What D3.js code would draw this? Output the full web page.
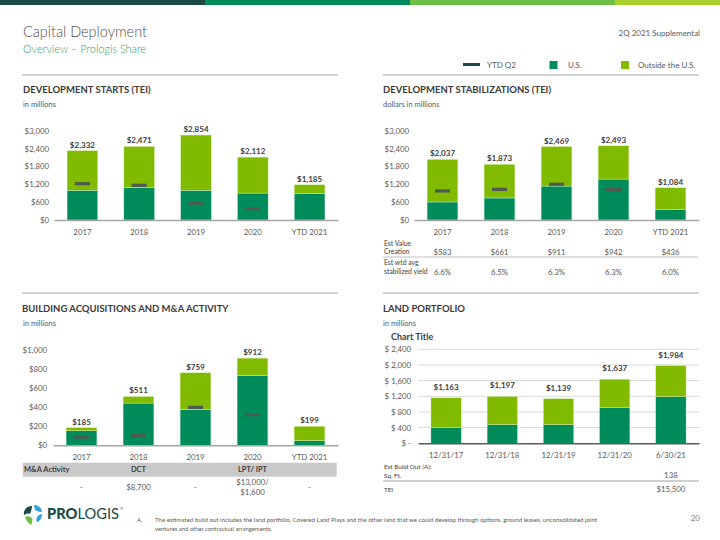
<!DOCTYPE html>
<html><head><meta charset="utf-8">
<script src="https://cdn.jsdelivr.net/npm/d3@7/dist/d3.min.js"></script>
<style>body{margin:0;background:#fff}svg{display:block;font-family:Lato,"Open Sans",sans-serif}</style>
</head><body><svg id="c" width="720" height="540"></svg>
<script>
// ---------- data ----------
const years = ["2017","2018","2019","2020","YTD 2021"];
const landDates = ["12/31/17","12/31/18","12/31/19","12/31/20","6/30/21"];

const startsUS      = [1000, 1085, 1000, 905, 885];
const startsOutside = [1332, 1386, 1854, 1207, 300];
const startsTotal   = [2332, 2471, 2854, 2112, 1185];
const startsYTD     = [1220, 1165, 570, 380, null];

const stabUS      = [605, 740, 1140, 1375, 345];
const stabOutside = [1432, 1133, 1329, 1118, 739];
const stabTotal   = [2037, 1873, 2469, 2493, 1084];
const stabYTD     = [975, 1030, 1200, 1020, null];
const estValueCreation = ["$583","$661","$911","$942","$436"];
const estYield         = ["6.6%","6.5%","6.3%","6.3%","6.0%"];

const acqUS      = [153, 442, 373, 728, 49];
const acqOutside = [32, 69, 386, 184, 150];
const acqTotal   = [185, 511, 759, 912, 199];
const acqYTD     = [87, 105, 397, 321, null];
const maRow      = ["-", "$8,700", "-", "$13,000/\n$1,600", "-"];

const landUS      = [400, 477, 477, 919, 1191];
const landOutside = [763, 720, 662, 718, 793];
const landTotal   = [1163, 1197, 1139, 1637, 1984];

const ticks3000 = [0, 600, 1200, 1800, 2400, 3000];
const ticks1000 = [0, 200, 400, 600, 800, 1000];
const ticks2400 = [0, 400, 800, 1200, 1600, 2000, 2400];

// ---------- style ----------
const C_US = "#008c5a", C_OUT = "#80bb00", C_MARK = "#515a50", C_TEAL = "#1b4a47";
const C_TXT = "#595959", C_DARK = "#404040";

const svg = d3.select("#c");
svg.append("rect").attr("width",720).attr("height",540).attr("fill","#fff");

// top band
[["#1b4a47",0,205],["#008c5a",205,410],["#6dbe45",410,615],["#a9d12e",615,720]].forEach(([c,a,b])=>{
  svg.append("rect").attr("x",a).attr("y",0).attr("width",b-a).attr("height",5).attr("fill",c);
});

function txt(x,y,s,o={}){
  const t = svg.append("text").attr("x",x).attr("y",y).text(s)
    .attr("font-size",o.size||8).attr("fill",o.fill||C_TXT)
    .attr("text-anchor",o.anchor||"start").attr("font-weight",o.weight||"normal");
  if(o.len) t.attr("textLength",o.len).attr("lengthAdjust","spacingAndGlyphs");
  return t;
}

// header
txt(23,37,"Capital Deployment",{size:16.5,fill:"#505050",weight:300,len:124});
txt(23,53,"Overview \u2013 Prologis Share",{size:11.5,fill:"#2e9e72",weight:300,len:123});
txt(700,36,"2Q 2021 Supplemental",{size:8,anchor:"end",fill:"#595959"});

// legend
svg.append("line").attr("x1",463).attr("x2",480).attr("y1",64.5).attr("y2",64.5).attr("stroke",C_TEAL).attr("stroke-width",3);
txt(487,67.5,"YTD Q2",{size:8});
svg.append("rect").attr("x",549.5).attr("y",61).attr("width",8).attr("height",8).attr("fill",C_US);
txt(568,67.5,"U.S.",{size:8});
svg.append("rect").attr("x",621).attr("y",61).attr("width",8).attr("height",8).attr("fill",C_OUT);
txt(638,67.5,"Outside the U.S.",{size:8});

// dividers
[[22,338,75],[383,699,75],[22,338,293],[383,699,293]].forEach(([a,b,y])=>{
  svg.append("line").attr("x1",a).attr("x2",b).attr("y1",y).attr("y2",y).attr("stroke","#a6a6a6").attr("stroke-width",1);
});

// section titles
txt(23,93,"DEVELOPMENT STARTS (TEI)",{size:9.5,weight:"bold",fill:"#3a3a3a"});
txt(23,107,"in millions",{size:7.5});
txt(383,93,"DEVELOPMENT STABILIZATIONS (TEI)",{size:9.5,weight:"bold",fill:"#3a3a3a"});
txt(383,107,"dollars in millions",{size:7.5});
txt(22,312,"BUILDING ACQUISITIONS AND M&A ACTIVITY",{size:9.5,weight:"bold",fill:"#3a3a3a"});
txt(23,326,"in millions",{size:7.5});
txt(383,312,"LAND PORTFOLIO",{size:9.5,weight:"bold",fill:"#3a3a3a"});
txt(383,326,"in millions",{size:7.5});
txt(391,340,"Chart Title",{size:9,weight:"bold",fill:"#404040"});

function chart(o){
  const g = svg.append("g");
  const x = d3.scaleBand().domain(o.cats).range([o.x0,o.x1]).paddingInner(0.46).paddingOuter(0.23);
  const y = d3.scaleLinear().domain([0,o.max]).range([o.yBase,o.yTop]);
  if(o.grid){
    g.selectAll(".gr").data(o.ticks.slice(1)).join("line")
      .attr("x1",o.x0).attr("x2",o.x1).attr("y1",d=>y(d)).attr("y2",d=>y(d))
      .attr("stroke","#d9d9d9").attr("stroke-width",1);
  }
  const ya = g.append("g").attr("transform",`translate(${o.yLabelX},0)`)
    .call(d3.axisLeft(y).tickValues(o.ticks).tickSize(0).tickPadding(0).tickFormat(o.fmt));
  ya.select(".domain").remove();
  ya.selectAll("text").attr("font-size",7.8).attr("fill",C_TXT).attr("font-family","Lato,sans-serif");
  const idx = o.cats.map((c,i)=>i);
  g.selectAll(".us").data(idx).join("rect")
    .attr("x",i=>x(o.cats[i])).attr("width",x.bandwidth())
    .attr("y",i=>y(o.us[i])).attr("height",i=>y(0)-y(o.us[i]))
    .attr("fill",C_US).attr("stroke","#c8ecd0").attr("stroke-width",0.4);
  g.selectAll(".out").data(idx).join("rect")
    .attr("x",i=>x(o.cats[i])).attr("width",x.bandwidth())
    .attr("y",i=>y(o.us[i]+o.out[i])).attr("height",i=>y(o.us[i])-y(o.us[i]+o.out[i]))
    .attr("fill",C_OUT).attr("stroke","#e2f3c4").attr("stroke-width",0.4);
  if(o.marks){
    g.selectAll(".mk").data(idx.filter(i=>o.marks[i]!=null)).join("rect")
      .attr("x",i=>x(o.cats[i])+x.bandwidth()/2-7.5).attr("width",15)
      .attr("y",i=>y(o.marks[i])-1.6).attr("height",3.2).attr("fill",C_MARK);
  }
  const xa = g.append("g").attr("transform",`translate(0,${o.yBase})`)
    .call(d3.axisBottom(x).tickSize(0).tickPadding(o.xPad||9));
  xa.select(".domain").attr("stroke",o.baseColor||"#a6a6a6").attr("stroke-width",1.5);
  xa.selectAll("text").attr("font-size",7.8).attr("fill",C_TXT).attr("font-family","Lato,sans-serif");
  g.selectAll(".vl").data(idx).join("text")
    .attr("x",i=>x(o.cats[i])+x.bandwidth()/2)
    .attr("y",i=>y(o.us[i]+o.out[i])-(o.labOff||3))
    .attr("text-anchor","middle").attr("font-size",8).attr("font-weight","bold").attr("fill",C_DARK)
    .text(i=>"$"+d3.format(",")(o.totals[i]));
  return x;
}

const fmtD = d=>"$"+d3.format(",")(d);
const fmtAcc = d=> d===0 ? "$ -" : "$ "+d3.format(",")(d);

const x1 = chart({cats:years,x0:54,x1:338,yBase:220,yTop:130.7,max:3000,ticks:ticks3000,fmt:fmtD,yLabelX:49,
  us:startsUS,out:startsOutside,totals:startsTotal,marks:startsYTD});
const x2 = chart({cats:years,x0:414,x1:699,yBase:220,yTop:130.7,max:3000,ticks:ticks3000,fmt:fmtD,yLabelX:409,
  us:stabUS,out:stabOutside,totals:stabTotal,marks:stabYTD});
const x3 = chart({cats:years,x0:53,x1:338,yBase:445.3,yTop:349.7,max:1000,ticks:ticks1000,fmt:fmtD,yLabelX:47,
  us:acqUS,out:acqOutside,totals:acqTotal,marks:acqYTD});
const x4 = chart({cats:landDates,x0:418,x1:699,yBase:443.3,yTop:349.3,max:2400,ticks:ticks2400,fmt:fmtAcc,yLabelX:411,
  us:landUS,out:landOutside,totals:landTotal,grid:true,labOff:8,baseColor:"#595959",xPad:9});

// stabilization table
txt(384,245.5,"Est Value",{size:6.8,fill:C_DARK});
txt(384,254,"Creation",{size:6.8,fill:C_DARK});
years.forEach((c,i)=>{
  txt(x2(c)+x2.bandwidth()/2,254.5,estValueCreation[i],{size:7.8,anchor:"middle"});
  txt(x2(c)+x2.bandwidth()/2,274.5,estYield[i],{size:7.8,anchor:"middle"});
});
svg.append("line").attr("x1",383).attr("x2",698).attr("y1",257).attr("y2",257).attr("stroke","#bfbfbf").attr("stroke-width",1);
txt(384,265,"Est wtd avg",{size:6.8,fill:C_DARK});
txt(384,274,"stabilized yield",{size:6.8,fill:C_DARK});

// M&A table
svg.append("rect").attr("x",22.7).attr("y",462.7).attr("width",314).attr("height",14).attr("fill","#c9c9c9");
txt(24,472.3,"M&A Activity",{size:7.5,weight:"bold",fill:C_DARK});
txt(x3("2018")+x3.bandwidth()/2,472.3,"DCT",{size:7.5,weight:"bold",fill:C_DARK,anchor:"middle"});
txt(x3("2020")+x3.bandwidth()/2,472.3,"LPT/ IPT",{size:7.5,weight:"bold",fill:C_DARK,anchor:"middle"});
years.forEach((c,i)=>{
  const cx = x3(c)+x3.bandwidth()/2;
  const parts = maRow[i].split("\n");
  if(parts.length===1) txt(cx,490,parts[0],{size:7.8,anchor:"middle"});
  else { txt(cx,485,parts[0],{size:7.8,anchor:"middle"}); txt(cx,495,parts[1],{size:7.8,anchor:"middle"}); }
});

// land table
txt(384,469,"Est Build Out (A):",{size:6.3,fill:C_DARK});
txt(384,477.5,"Sq. Ft.",{size:6.3,fill:C_DARK});
const lx = x4("6/30/21")+x4.bandwidth()/2;
txt(lx,477.5,"138",{size:7.8,anchor:"middle"});
svg.append("line").attr("x1",383).attr("x2",699).attr("y1",481).attr("y2",481).attr("stroke","#d0d0d0").attr("stroke-width",2);
txt(384,491.5,"TEI",{size:6.3,fill:C_DARK});
txt(lx,491.5,"$15,500",{size:7.8,anchor:"middle"});

// footer logo
const lg = svg.append("g").attr("transform","translate(23,504)");
lg.append("path").attr("d","M9,2 C4,2 0,6 1,11 C3,10 5,9 7,10 C8,7 9,5 9,2 Z").attr("fill",C_TEAL);
lg.append("path").attr("d","M11,1 C15,1 19,4 19,8 C16,8 14,7 12,6 C12,4 11,3 11,1 Z").attr("fill","#2ea3dc");
lg.append("path").attr("d","M19,10 C19,14 17,17 14,18 C13,16 13,14 15,12 C16,11 17,10 19,10 Z").attr("fill","#2ea3dc");
lg.append("path").attr("d","M2,13 C4,12 7,12 9,14 C10,16 9,19 8,21 C5,19 3,16 2,13 Z").attr("fill","#6dbe45");
lg.append("text").attr("x",24).attr("y",14.5).attr("font-size",15.5).attr("fill",C_TEAL)
  .attr("font-family","Lato,'Open Sans',sans-serif")
  .attr("textLength",72).attr("lengthAdjust","spacingAndGlyphs")
  .html('<tspan font-weight="900">PRO</tspan><tspan font-weight="normal">LOGIS</tspan>');
lg.append("text").attr("x",97).attr("y",6).attr("font-size",4).attr("fill",C_TEAL).text("\u00ae");

txt(137,521.5,"A.",{size:6,fill:C_TXT});
txt(155,521.5,"The estimated build out includes the land portfolio, Covered Land Plays and the other land that we could develop through options, ground leases, unconsolidated joint",{size:6,fill:C_TXT,len:442});
txt(155,530.5,"ventures and other contractual arrangements.",{size:6,fill:C_TXT,len:117});
txt(700,521,"20",{size:8,anchor:"end",fill:"#808080"});
</script></body></html>
